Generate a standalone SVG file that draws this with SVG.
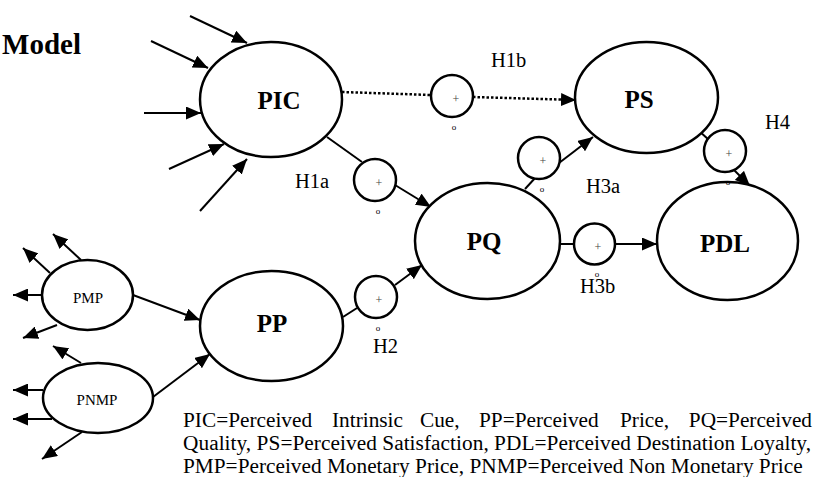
<svg xmlns="http://www.w3.org/2000/svg" width="814" height="477" viewBox="0 0 814 477" font-family="Liberation Serif, Times New Roman, serif">
<style>
.n{fill:#fff;stroke:#000;stroke-width:2.5}
.c{fill:#fff;stroke:#000;stroke-width:2.5}
.l{stroke:#000;stroke-width:2;fill:none}
.a{stroke:#000;stroke-width:2;fill:none;marker-end:url(#ah)}
.d{stroke:#000;stroke-width:2.5;fill:none;stroke-dasharray:2.5 2}
text{font-family:"Liberation Serif","Times New Roman",serif;fill:#000}
.big{font-size:25px;font-weight:bold;text-anchor:middle}
.sm{font-size:15px;text-anchor:middle}
.h{font-size:20.5px}
.p{font-size:12px;fill:#444;text-anchor:middle}
.o{font-size:9px;text-anchor:middle}
.cap{font-size:21.3px}
</style>
<defs>
<marker id="ah" markerUnits="userSpaceOnUse" markerWidth="16" markerHeight="13" refX="15" refY="6.5" orient="auto">
<path d="M0,0 L15,6.5 L0,13 z" fill="#000"/>
</marker>
</defs>
<text x="81" y="54" text-anchor="end" style="font-size:29px;font-weight:bold">Model</text>

<g id="connectors">
<line class="a" x1="190" y1="16" x2="247" y2="43"/>
<line class="a" x1="151" y1="41" x2="208" y2="68"/>
<line class="a" x1="144" y1="113" x2="201" y2="113"/>
<line class="a" x1="169" y1="169" x2="224" y2="144"/>
<line class="a" x1="200" y1="211" x2="247" y2="159"/>
<line class="d" x1="342" y1="92" x2="431" y2="95"/>
<line class="d" x1="473" y1="97" x2="562" y2="99.6"/>
<line class="a" x1="562" y1="99.6" x2="576" y2="100"/>
<line class="l" x1="327" y1="137" x2="362" y2="162"/>
<line class="a" x1="395" y1="185" x2="431" y2="207"/>
<line class="l" x1="525" y1="189" x2="536" y2="177"/>
<line class="a" x1="559" y1="163" x2="593" y2="137"/>
<line class="l" x1="698" y1="130" x2="709" y2="140"/>
<line class="a" x1="733" y1="169" x2="750" y2="186"/>
<line class="l" x1="560" y1="244" x2="574" y2="244"/>
<line class="a" x1="615" y1="244" x2="657" y2="244"/>
<line class="l" x1="343" y1="317" x2="357" y2="308"/>
<line class="a" x1="395" y1="285" x2="422" y2="265"/>
<line class="a" x1="133" y1="295" x2="200" y2="320"/>
<line class="a" x1="153" y1="397" x2="210" y2="354"/>
<line class="a" x1="81" y1="260" x2="53" y2="234"/>
<line class="a" x1="50" y1="273" x2="23" y2="248"/>
<line class="a" x1="42" y1="295" x2="13" y2="295"/>
<line class="a" x1="57" y1="325" x2="23" y2="338"/>
<line class="a" x1="81" y1="363" x2="53" y2="346"/>
<line class="a" x1="43" y1="390" x2="13" y2="390"/>
<line class="a" x1="52" y1="419" x2="13" y2="419"/>
<line class="a" x1="82" y1="432" x2="42" y2="459"/>
</g>

<g id="PIC"><ellipse class="n" cx="271" cy="99.5" rx="71" ry="57.5"/><text class="big" x="279" y="109">PIC</text></g>
<g id="PS"><ellipse class="n" cx="646.5" cy="97.5" rx="71.5" ry="55.5"/><text class="big" x="639" y="108">PS</text></g>
<g id="PQ"><ellipse class="n" cx="487.5" cy="241" rx="72.5" ry="58"/><text class="big" x="484" y="250">PQ</text></g>
<g id="PDL"><ellipse class="n" cx="727.5" cy="241" rx="70.5" ry="59"/><text class="big" x="725" y="252">PDL</text></g>
<g id="PP"><ellipse class="n" cx="271.5" cy="326" rx="71.5" ry="55"/><text class="big" x="272" y="332">PP</text></g>
<g id="PMP"><ellipse class="n" cx="87.5" cy="295" rx="45.5" ry="35"/><text class="sm" x="88" y="303">PMP</text></g>
<g id="PNMP"><ellipse class="n" cx="98" cy="398" rx="55" ry="35"/><text class="sm" x="97" y="405">PNMP</text></g>

<g id="H1b"><circle class="c" cx="452" cy="96" r="21"/><text class="p" x="456" y="103">+</text><text class="o" x="454" y="130">o</text><text class="h" x="491" y="67">H1b</text></g>
<g id="H1a"><circle class="c" cx="375" cy="180" r="21"/><text class="p" x="379" y="187">+</text><text class="o" x="378" y="214">o</text><text class="h" x="295" y="188">H1a</text></g>
<g id="H3a"><circle class="c" cx="539" cy="158" r="21"/><text class="p" x="543" y="165">+</text><text class="o" x="542" y="192">o</text><text class="h" x="586" y="193">H3a</text></g>
<g id="H4"><circle class="c" cx="725" cy="151" r="21"/><text class="p" x="729" y="158">+</text><text class="o" x="728" y="185">o</text><text class="h" x="765" y="129">H4</text></g>
<g id="H3b"><circle class="c" cx="594.5" cy="244" r="20.5"/><text class="p" x="598" y="251">+</text><text class="o" x="597" y="277">o</text><text class="h" x="580" y="293">H3b</text></g>
<g id="H2"><circle class="c" cx="376" cy="297" r="21"/><text class="p" x="379" y="304">+</text><text class="o" x="378" y="331">o</text><text class="h" x="373" y="353">H2</text></g>

<g id="legend">
<text class="cap" x="183" y="427">PIC=Perceived</text>
<text class="cap" x="332" y="427">Intrinsic</text>
<text class="cap" x="420" y="427">Cue,</text>
<text class="cap" x="479" y="427">PP=Perceived</text>
<text class="cap" x="620" y="427">Price,</text>
<text class="cap" x="812" y="427" text-anchor="end">PQ=Perceived</text>
<text class="cap" x="183" y="450" textLength="628" lengthAdjust="spacing">Quality, PS=Perceived Satisfaction, PDL=Perceived Destination Loyalty,</text>
<text class="cap" x="183" y="473">PMP=Perceived Monetary Price, PNMP=Perceived Non Monetary Price</text>
</g>
</svg>
